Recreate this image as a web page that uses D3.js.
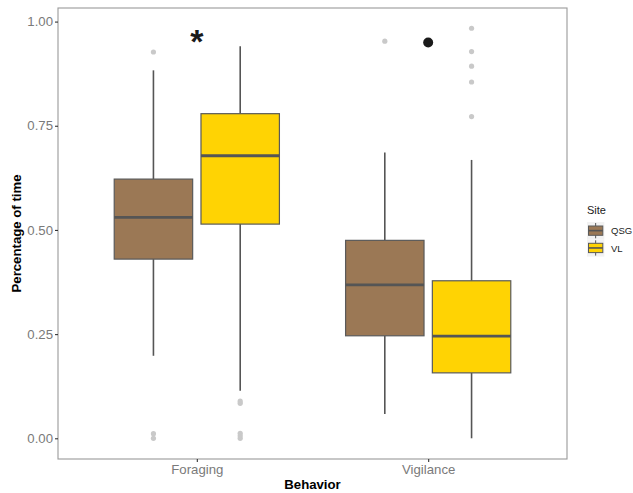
<!DOCTYPE html>
<html>
<head>
<meta charset="utf-8">
<script src="https://cdn.jsdelivr.net/npm/d3@7"></script>
<style>
  body { margin: 0; background: #fff; }
  text { font-family: "Liberation Sans", Arial, sans-serif; }
</style>
</head>
<body>
<div id="chart"></div>
<script>
const behaviors = ["Foraging", "Vigilance"];
const sites = ["QSG", "VL"];
const siteColors = ["#9b7855", "#ffd303"];

// box stats per site, one value per behavior
const whiskLow = { QSG: [0.198, 0.058], VL: [0.114, 0.0] };
const q1 = { QSG: [0.430, 0.246], VL: [0.514, 0.157] };
const medians = { QSG: [0.530, 0.368], VL: [0.678, 0.245] };
const q3 = { QSG: [0.622, 0.475], VL: [0.779, 0.378] };
const whiskHigh = { QSG: [0.883, 0.686], VL: [0.941, 0.668] };

const outliersQSG = [
  ["Foraging", 0.927], ["Foraging", 0.0], ["Foraging", 0.011],
  ["Vigilance", 0.953]
];
const outliersVL = [
  ["Foraging", 0.084], ["Foraging", 0.089], ["Foraging", 0.0], ["Foraging", 0.006], ["Foraging", 0.012],
  ["Vigilance", 0.984], ["Vigilance", 0.928], ["Vigilance", 0.893], ["Vigilance", 0.855], ["Vigilance", 0.772]
];

const yTicks = [0, 0.25, 0.5, 0.75, 1.0];
const starMark = ["Foraging", 0.972];
const dotMark = ["Vigilance", 0.950];

const W = 633, H = 493;
const mLeft = 58, mTop = 8, mRight = 567, mBottom = 459;

const svg = d3.select("#chart").append("svg")
  .attr("width", W)
  .attr("height", H);

// ggplot discrete: 0.6 units expansion each side
const x = d3.scalePoint().domain(behaviors).range([mLeft, mRight]).padding(0.6);
const y = d3.scaleLinear().domain([-0.0497, 1.0326]).range([mBottom, mTop]);

const unit = x.step();
const dodge = d3.scaleBand().domain(sites).range([-0.375 * unit, 0.375 * unit]);
const boxW = 0.339 * unit;

// panel border
svg.append("rect")
  .attr("x", mLeft).attr("y", mTop)
  .attr("width", mRight - mLeft).attr("height", mBottom - mTop)
  .attr("fill", "none").attr("stroke", "#9a9a9a").attr("stroke-width", 1.1);

// axes
const yAxis = svg.append("g")
  .attr("transform", `translate(${mLeft},0)`)
  .call(d3.axisLeft(y).tickValues(yTicks).tickFormat(d3.format(".2f")).tickSize(3).tickPadding(2));
yAxis.select(".domain").remove();
yAxis.selectAll("line").attr("stroke", "#333").attr("stroke-width", 1.1);
yAxis.selectAll("text").attr("fill", "#7a7a7a").style("font-size", "13.2px");

const xAxis = svg.append("g")
  .attr("transform", `translate(0,${mBottom})`)
  .call(d3.axisBottom(x).tickSize(3).tickPadding(3));
xAxis.select(".domain").remove();
xAxis.selectAll("line").attr("stroke", "#333").attr("stroke-width", 1.1);
xAxis.selectAll("text").attr("fill", "#7a7a7a").style("font-size", "13.2px");

// boxes
sites.forEach((s, si) => {
  behaviors.forEach((b, bi) => {
    const cx = x(b) + dodge(s) + dodge.bandwidth() / 2;
    const g = svg.append("g");
    g.append("line")
      .attr("x1", cx).attr("x2", cx)
      .attr("y1", y(whiskHigh[s][bi])).attr("y2", y(q3[s][bi]))
      .attr("stroke", "#555").attr("stroke-width", 1.6);
    g.append("line")
      .attr("x1", cx).attr("x2", cx)
      .attr("y1", y(q1[s][bi])).attr("y2", y(whiskLow[s][bi]))
      .attr("stroke", "#555").attr("stroke-width", 1.6);
    g.append("rect")
      .attr("x", cx - boxW / 2).attr("width", boxW)
      .attr("y", y(q3[s][bi])).attr("height", y(q1[s][bi]) - y(q3[s][bi]))
      .attr("fill", siteColors[si]).attr("stroke", "#5a5a5a").attr("stroke-width", 1.2);
    g.append("line")
      .attr("x1", cx - boxW / 2).attr("x2", cx + boxW / 2)
      .attr("y1", y(medians[s][bi])).attr("y2", y(medians[s][bi]))
      .attr("stroke", "#555").attr("stroke-width", 2.8);
  });
});

// outliers
[outliersQSG, outliersVL].forEach((pts, si) => {
  svg.append("g").selectAll("circle")
    .data(pts)
    .enter().append("circle")
    .attr("cx", d => x(d[0]) + dodge(sites[si]) + dodge.bandwidth() / 2)
    .attr("cy", d => y(d[1]))
    .attr("r", 2.6)
    .attr("fill", "#c9c9c9");
});

// annotations
svg.append("text")
  .attr("x", x(starMark[0]))
  .attr("y", y(starMark[1]) + 20)
  .attr("text-anchor", "middle")
  .style("font-size", "34px")
  .style("font-weight", "bold")
  .attr("fill", "#1a1a1a")
  .text("*");

svg.append("circle")
  .attr("cx", x(dotMark[0]))
  .attr("cy", y(dotMark[1]))
  .attr("r", 5)
  .attr("fill", "#1a1a1a");

// axis titles
svg.append("text")
  .attr("x", (mLeft + mRight) / 2)
  .attr("y", 489)
  .attr("text-anchor", "middle")
  .style("font-size", "13.2px")
  .style("font-weight", "bold")
  .text("Behavior");

svg.append("text")
  .attr("text-anchor", "middle")
  .attr("transform", `translate(20.5,${(mTop + mBottom) / 2})rotate(-90)`)
  .style("font-size", "13.2px")
  .style("font-weight", "bold")
  .text("Percentage of time");

// legend
const legend = svg.append("g").attr("transform", "translate(587,0)");
legend.append("text")
  .attr("x", 0).attr("y", 214)
  .style("font-size", "11px")
  .attr("fill", "#1a1a1a")
  .text("Site");

sites.forEach((s, i) => {
  const ky = 222 + i * 17.3;
  const k = legend.append("g").attr("transform", `translate(0,${ky})`);
  k.append("rect").attr("width", 17.3).attr("height", 17.3).attr("fill", "#f2f2f2");
  k.append("line").attr("x1", 8.65).attr("x2", 8.65).attr("y1", 1).attr("y2", 16.3)
    .attr("stroke", "#555").attr("stroke-width", 1);
  k.append("rect").attr("x", 1.5).attr("y", 4).attr("width", 14.3).attr("height", 9.3)
    .attr("fill", siteColors[i]).attr("stroke", "#5a5a5a").attr("stroke-width", 1);
  k.append("line").attr("x1", 1.5).attr("x2", 15.8).attr("y1", 8.65).attr("y2", 8.65)
    .attr("stroke", "#555").attr("stroke-width", 1.6);
  legend.append("text")
    .attr("x", 24).attr("y", ky + 12.3)
    .style("font-size", "9.5px")
    .attr("fill", "#1a1a1a")
    .text(s);
});
</script>
</body>
</html>
